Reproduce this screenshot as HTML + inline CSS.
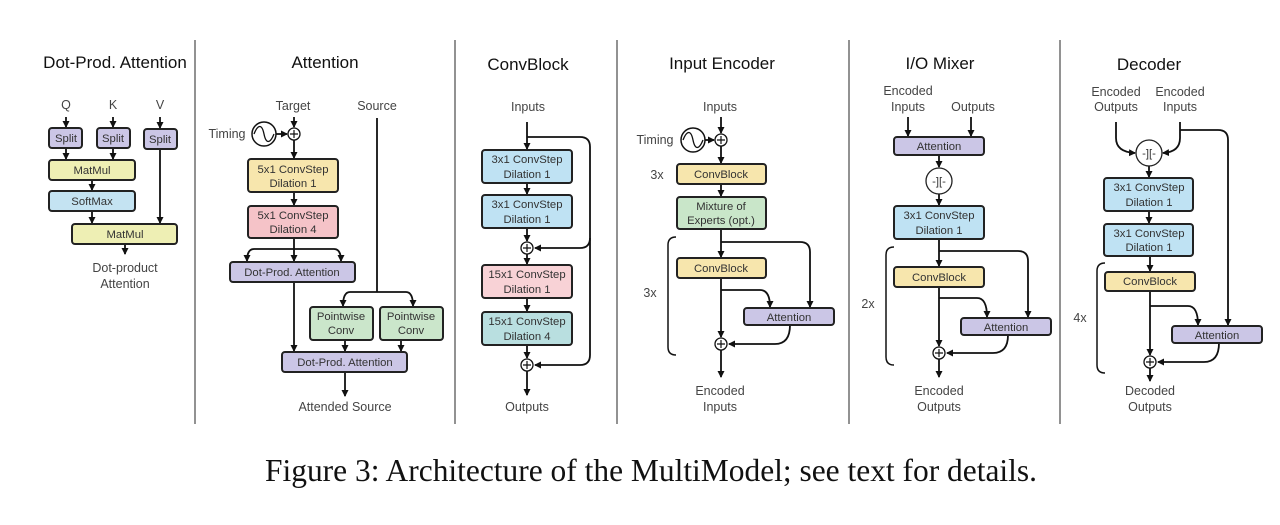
<!DOCTYPE html>
<html><head><meta charset="utf-8"><style>
html,body{margin:0;padding:0;background:#fff;}
svg{display:block}
text{font-family:"Liberation Sans",sans-serif;fill:#333;}
.t{font-size:17px;fill:#111;text-anchor:middle}
.l{font-size:12.5px;text-anchor:middle;fill:#444}
.b{font-size:11.3px;text-anchor:middle;fill:#333}
.bx{stroke:#222;stroke-width:2}
.ln{stroke:#111;stroke-width:1.8;fill:none}
.div{stroke:#777;stroke-width:1.6}
</style></head><body>
<svg width="1280" height="525" viewBox="0 0 1280 525" xmlns="http://www.w3.org/2000/svg">
<defs><marker id="a" markerWidth="8" markerHeight="8" refX="6" refY="4" orient="auto" markerUnits="userSpaceOnUse"><path d="M0,0.5 L7,4 L0,7.5 z" fill="#111"/></marker></defs>
<g class="div"><line x1="195" y1="40" x2="195" y2="424"/><line x1="455" y1="40" x2="455" y2="424"/><line x1="617" y1="40" x2="617" y2="424"/><line x1="849" y1="40" x2="849" y2="424"/><line x1="1060" y1="40" x2="1060" y2="424"/></g>

<!-- Panel 1 -->
<text class="t" x="115" y="68">Dot-Prod. Attention</text>
<text class="l" x="66" y="109">Q</text><text class="l" x="113" y="109">K</text><text class="l" x="160" y="109">V</text>
<g class="ln"><line x1="66" y1="117" x2="66" y2="127" marker-end="url(#a)"/><line x1="113" y1="117" x2="113" y2="127" marker-end="url(#a)"/><line x1="160" y1="117" x2="160" y2="128" marker-end="url(#a)"/>
<line x1="66" y1="148" x2="66" y2="159" marker-end="url(#a)"/><line x1="113" y1="148" x2="113" y2="159" marker-end="url(#a)"/><line x1="160" y1="149" x2="160" y2="223" marker-end="url(#a)"/>
<line x1="92" y1="180" x2="92" y2="190" marker-end="url(#a)"/><line x1="92" y1="211" x2="92" y2="223" marker-end="url(#a)"/><line x1="125" y1="244" x2="125" y2="254" marker-end="url(#a)"/></g>
<g class="bx"><rect x="49" y="128" width="33" height="20" rx="3" fill="#cbc6e6"/><rect x="97" y="128" width="33" height="20" rx="3" fill="#cbc6e6"/><rect x="144" y="129" width="33" height="20" rx="3" fill="#cbc6e6"/>
<rect x="49" y="160" width="86" height="20" rx="3" fill="#eeefb4"/><rect x="49" y="191" width="86" height="20" rx="3" fill="#c4e3f2"/><rect x="72" y="224" width="105" height="20" rx="3" fill="#eeefb4"/></g>
<text class="b" x="66" y="142">Split</text><text class="b" x="113" y="142">Split</text><text class="b" x="160" y="143">Split</text>
<text class="b" x="92" y="174">MatMul</text><text class="b" x="92" y="205">SoftMax</text><text class="b" x="125" y="238">MatMul</text>
<text class="l" x="125" y="272">Dot-product</text><text class="l" x="125" y="288">Attention</text>

<!-- Panel 2 -->
<text class="t" x="325" y="68">Attention</text>
<text class="l" x="293" y="110">Target</text><text class="l" x="377" y="110">Source</text>
<text class="l" x="227" y="138">Timing</text>
<circle cx="264" cy="134" r="12" fill="none" stroke="#111" stroke-width="1.5"/>
<path d="M254,134 C258,124 262,124 264,134 C266,144 270,144 274,134" fill="none" stroke="#111" stroke-width="1.3"/>
<circle cx="294" cy="134" r="6" fill="#fff" stroke="#111" stroke-width="1.3"/><path d="M290,134h8M294,130v8" stroke="#111" stroke-width="1.2"/>
<g class="ln"><line x1="276" y1="134" x2="287" y2="134" marker-end="url(#a)"/><line x1="294" y1="117" x2="294" y2="127" marker-end="url(#a)"/><line x1="294" y1="140" x2="294" y2="158" marker-end="url(#a)"/>
<line x1="294" y1="192" x2="294" y2="205" marker-end="url(#a)"/><line x1="294" y1="238" x2="294" y2="261" marker-end="url(#a)"/>
<path d="M294,249 H254 Q247,249 247,261" marker-end="url(#a)"/><path d="M294,249 H334 Q341,249 341,261" marker-end="url(#a)"/>
<line x1="294" y1="282" x2="294" y2="351" marker-end="url(#a)"/>
<path d="M377,118 V292"/><path d="M377,292 H350 Q343,292 343,306" marker-end="url(#a)"/><path d="M377,292 H406 Q413,292 413,306" marker-end="url(#a)"/>
<line x1="345" y1="340" x2="345" y2="351" marker-end="url(#a)"/><line x1="401" y1="340" x2="401" y2="351" marker-end="url(#a)"/>
<line x1="345" y1="372" x2="345" y2="396" marker-end="url(#a)"/></g>
<g class="bx"><rect x="248" y="159" width="90" height="33" rx="3" fill="#f7e6ad"/><rect x="248" y="206" width="90" height="32" rx="3" fill="#f5c3c8"/>
<rect x="230" y="262" width="125" height="20" rx="3" fill="#cbc6e6"/>
<rect x="310" y="307" width="63" height="33" rx="3" fill="#cbe6cb"/><rect x="380" y="307" width="63" height="33" rx="3" fill="#cbe6cb"/>
<rect x="282" y="352" width="125" height="20" rx="3" fill="#cbc6e6"/></g>
<text class="b" x="293" y="173">5x1 ConvStep</text><text class="b" x="293" y="187">Dilation 1</text>
<text class="b" x="293" y="219">5x1 ConvStep</text><text class="b" x="293" y="233">Dilation 4</text>
<text class="b" x="292" y="276">Dot-Prod. Attention</text>
<text class="b" x="341" y="320">Pointwise</text><text class="b" x="341" y="334">Conv</text>
<text class="b" x="411" y="320">Pointwise</text><text class="b" x="411" y="334">Conv</text>
<text class="b" x="345" y="366">Dot-Prod. Attention</text>
<text class="l" x="345" y="411">Attended Source</text>

<!-- Panel 3 ConvBlock -->
<text class="t" x="528" y="70">ConvBlock</text>
<text class="l" x="528" y="111">Inputs</text>
<g class="ln"><line x1="527" y1="122" x2="527" y2="149" marker-end="url(#a)"/>
<path d="M527,137 H580 Q590,137 590,147 V355 Q590,365 580,365 H535" marker-end="url(#a)"/>
<path d="M590,238 Q590,248 580,248 H535" marker-end="url(#a)"/>
<line x1="527" y1="183" x2="527" y2="194" marker-end="url(#a)"/><line x1="527" y1="228" x2="527" y2="241" marker-end="url(#a)"/>
<line x1="527" y1="254" x2="527" y2="264" marker-end="url(#a)"/><line x1="527" y1="298" x2="527" y2="311" marker-end="url(#a)"/>
<line x1="527" y1="345" x2="527" y2="358" marker-end="url(#a)"/><line x1="527" y1="371" x2="527" y2="395" marker-end="url(#a)"/></g>
<g class="bx"><rect x="482" y="150" width="90" height="33" rx="3" fill="#bfe2f3"/><rect x="482" y="195" width="90" height="33" rx="3" fill="#bfe2f3"/>
<rect x="482" y="265" width="90" height="33" rx="3" fill="#f8d2d6"/><rect x="482" y="312" width="90" height="33" rx="3" fill="#b9dfe0"/></g>
<text class="b" x="527" y="163">3x1 ConvStep</text><text class="b" x="527" y="178">Dilation 1</text>
<text class="b" x="527" y="208">3x1 ConvStep</text><text class="b" x="527" y="223">Dilation 1</text>
<text class="b" x="527" y="278">15x1 ConvStep</text><text class="b" x="527" y="293">Dilation 1</text>
<text class="b" x="527" y="325">15x1 ConvStep</text><text class="b" x="527" y="340">Dilation 4</text>
<circle cx="527" cy="248" r="6" fill="#fff" stroke="#111" stroke-width="1.3"/><path d="M523,248h8M527,244v8" stroke="#111" stroke-width="1.2"/>
<circle cx="527" cy="365" r="6" fill="#fff" stroke="#111" stroke-width="1.3"/><path d="M523,365h8M527,361v8" stroke="#111" stroke-width="1.2"/>
<text class="l" x="527" y="411">Outputs</text>

<!-- Panel 4 Input Encoder -->
<text class="t" x="722" y="69">Input Encoder</text>
<text class="l" x="720" y="111">Inputs</text>
<text class="l" x="655" y="144">Timing</text>
<circle cx="693" cy="140" r="12" fill="none" stroke="#111" stroke-width="1.5"/>
<path d="M683,140 C687,130 691,130 693,140 C695,150 699,150 703,140" fill="none" stroke="#111" stroke-width="1.3"/>
<circle cx="721" cy="140" r="6" fill="#fff" stroke="#111" stroke-width="1.3"/><path d="M717,140h8M721,136v8" stroke="#111" stroke-width="1.2"/>
<text class="l" x="657" y="179">3x</text><text class="l" x="650" y="297">3x</text>
<path d="M676,237 Q668,237 668,245 V347 Q668,355 676,355" fill="none" stroke="#111" stroke-width="1.5"/>
<g class="ln"><line x1="705" y1="140" x2="714" y2="140" marker-end="url(#a)"/><line x1="721" y1="117" x2="721" y2="133" marker-end="url(#a)"/>
<line x1="721" y1="146" x2="721" y2="163" marker-end="url(#a)"/><line x1="721" y1="184" x2="721" y2="196" marker-end="url(#a)"/>
<line x1="721" y1="229" x2="721" y2="257" marker-end="url(#a)"/>
<path d="M721,242 H800 Q810,242 810,252 V307" marker-end="url(#a)"/>
<line x1="721" y1="278" x2="721" y2="337" marker-end="url(#a)"/>
<path d="M721,290 H760 Q770,290 770,307" marker-end="url(#a)"/>
<path d="M790,325 Q790,344 775,344 H729" marker-end="url(#a)"/>
<line x1="721" y1="350" x2="721" y2="377" marker-end="url(#a)"/></g>
<g class="bx"><rect x="677" y="164" width="89" height="20" rx="3" fill="#f7e6ad"/><rect x="677" y="197" width="89" height="32" rx="3" fill="#c9e6c9"/>
<rect x="677" y="258" width="89" height="20" rx="3" fill="#f7e6ad"/><rect x="744" y="308" width="90" height="17" rx="3" fill="#cbc6e6"/></g>
<text class="b" x="721" y="178">ConvBlock</text><text class="b" x="721" y="210">Mixture of</text><text class="b" x="721" y="224">Experts (opt.)</text>
<text class="b" x="721" y="272">ConvBlock</text><text class="b" x="789" y="321">Attention</text>
<circle cx="721" cy="344" r="6" fill="#fff" stroke="#111" stroke-width="1.3"/><path d="M717,344h8M721,340v8" stroke="#111" stroke-width="1.2"/>
<text class="l" x="720" y="395">Encoded</text><text class="l" x="720" y="411">Inputs</text>

<!-- Panel 5 I/O Mixer -->
<text class="t" x="940" y="69">I/O Mixer</text>
<text class="l" x="908" y="95">Encoded</text><text class="l" x="908" y="111">Inputs</text><text class="l" x="973" y="111">Outputs</text>
<text class="l" x="868" y="308">2x</text>
<path d="M894,247 Q886,247 886,255 V357 Q886,365 894,365" fill="none" stroke="#111" stroke-width="1.5"/>
<g class="ln"><line x1="908" y1="117" x2="908" y2="136" marker-end="url(#a)"/><line x1="971" y1="117" x2="971" y2="136" marker-end="url(#a)"/>
<line x1="939" y1="155" x2="939" y2="167" marker-end="url(#a)"/><line x1="939" y1="194" x2="939" y2="205" marker-end="url(#a)"/>
<line x1="939" y1="239" x2="939" y2="266" marker-end="url(#a)"/>
<path d="M939,251 H1018 Q1028,251 1028,261 V317" marker-end="url(#a)"/>
<line x1="939" y1="287" x2="939" y2="346" marker-end="url(#a)"/>
<path d="M939,298 H977 Q987,298 987,317" marker-end="url(#a)"/>
<path d="M1008,335 Q1008,353 993,353 H947" marker-end="url(#a)"/>
<line x1="939" y1="359" x2="939" y2="377" marker-end="url(#a)"/></g>
<g class="bx"><rect x="894" y="137" width="90" height="18" rx="3" fill="#cbc6e6"/><rect x="894" y="206" width="90" height="33" rx="3" fill="#bfe2f3"/>
<rect x="894" y="267" width="90" height="20" rx="3" fill="#f7e6ad"/><rect x="961" y="318" width="90" height="17" rx="3" fill="#cbc6e6"/></g>
<circle cx="939" cy="181" r="13" fill="#fff" stroke="#222" stroke-width="1.3"/><text class="b" x="939" y="185">-][-</text>
<text class="b" x="939" y="150">Attention</text><text class="b" x="939" y="219">3x1 ConvStep</text><text class="b" x="939" y="234">Dilation 1</text>
<text class="b" x="939" y="281">ConvBlock</text><text class="b" x="1006" y="331">Attention</text>
<circle cx="939" cy="353" r="6" fill="#fff" stroke="#111" stroke-width="1.3"/><path d="M935,353h8M939,349v8" stroke="#111" stroke-width="1.2"/>
<text class="l" x="939" y="395">Encoded</text><text class="l" x="939" y="411">Outputs</text>

<!-- Panel 6 Decoder -->
<text class="t" x="1149" y="70">Decoder</text>
<text class="l" x="1116" y="96">Encoded</text><text class="l" x="1116" y="111">Outputs</text>
<text class="l" x="1180" y="96">Encoded</text><text class="l" x="1180" y="111">Inputs</text>
<text class="l" x="1080" y="322">4x</text>
<path d="M1105,263 Q1097,263 1097,271 V365 Q1097,373 1105,373" fill="none" stroke="#111" stroke-width="1.5"/>
<g class="ln"><path d="M1116,122 V138 Q1116,152 1135,153" marker-end="url(#a)"/><path d="M1180,122 V138 Q1180,152 1163,153" marker-end="url(#a)"/>
<path d="M1180,130 H1218 Q1228,130 1228,140 V325" marker-end="url(#a)"/>
<line x1="1149" y1="166" x2="1149" y2="177" marker-end="url(#a)"/><line x1="1149" y1="211" x2="1149" y2="223" marker-end="url(#a)"/>
<line x1="1150" y1="256" x2="1150" y2="271" marker-end="url(#a)"/>
<line x1="1150" y1="291" x2="1150" y2="355" marker-end="url(#a)"/>
<path d="M1150,306 H1188 Q1198,306 1198,325" marker-end="url(#a)"/>
<path d="M1219,343 Q1219,362 1204,362 H1158" marker-end="url(#a)"/>
<line x1="1150" y1="368" x2="1150" y2="381" marker-end="url(#a)"/></g>
<circle cx="1149" cy="153" r="13" fill="#fff" stroke="#222" stroke-width="1.3"/><text class="b" x="1149" y="157">-][-</text>
<g class="bx"><rect x="1104" y="178" width="89" height="33" rx="3" fill="#bfe2f3"/><rect x="1104" y="224" width="89" height="32" rx="3" fill="#bfe2f3"/>
<rect x="1105" y="272" width="90" height="19" rx="3" fill="#f7e6ad"/><rect x="1172" y="326" width="90" height="17" rx="3" fill="#cbc6e6"/></g>
<text class="b" x="1149" y="191">3x1 ConvStep</text><text class="b" x="1149" y="206">Dilation 1</text>
<text class="b" x="1149" y="237">3x1 ConvStep</text><text class="b" x="1149" y="251">Dilation 1</text>
<text class="b" x="1150" y="285">ConvBlock</text><text class="b" x="1217" y="339">Attention</text>
<circle cx="1150" cy="362" r="6" fill="#fff" stroke="#111" stroke-width="1.3"/><path d="M1146,362h8M1150,358v8" stroke="#111" stroke-width="1.2"/>
<text class="l" x="1150" y="395">Decoded</text><text class="l" x="1150" y="411">Outputs</text>

<text x="651" y="481" text-anchor="middle" textLength="772" lengthAdjust="spacingAndGlyphs" style="font-family:'Liberation Serif',serif;font-size:32px;fill:#111">Figure 3: Architecture of the MultiModel; see text for details.</text>
</svg>
</body></html>
